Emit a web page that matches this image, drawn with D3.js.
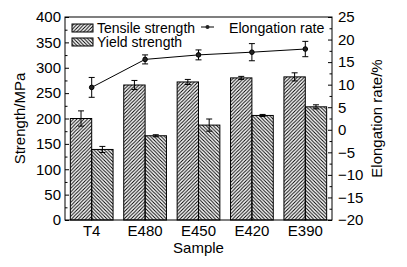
<!DOCTYPE html>
<html>
<head>
<meta charset="utf-8">
<script src="https://cdn.jsdelivr.net/npm/d3@7"></script>
<style>
body { margin: 0; background: white; }
text { font-family: "Liberation Sans", Arial, sans-serif; }
</style>
</head>
<body>
<div id="canvas"></div>
<script>
var w = 407;
var h = 267;

// data
var samples = ["T4", "E480", "E450", "E420", "E390"];
var tensile = [200, 266, 272, 280, 282];
var tensileErr = [15, 9, 5, 3, 8];
var yieldS = [139, 166, 187, 206, 223];
var yieldErr = [6, 2, 12, 2, 4];
var elong = [9.4, 15.6, 16.6, 17.2, 17.9];
var elongErr = [2.2, 1.0, 1.1, 1.9, 1.7];
var leftTicks = [0, 50, 100, 150, 200, 250, 300, 350, 400];
var rightTicks = [-20, -15, -10, -5, 0, 5, 10, 15, 20, 25];

// plot frame (window.top is reserved, so other names)
var pL = 65, pR = 332, pT = 17, pB = 220;

var svg = d3.select("#canvas").append("svg")
  .attr("width", w)
  .attr("height", h)
  .style("background-color", "white");

var defs = svg.append("defs");
// tensile: ////
var p1 = defs.append("pattern").attr("id", "hatchA")
  .attr("patternUnits", "userSpaceOnUse").attr("width", 3.5).attr("height", 3.5);
p1.append("path").attr("d", "M-1,1 L1,-1 M0,3.5 L3.5,0 M2.5,4.5 L4.5,2.5")
  .attr("stroke", "black").attr("stroke-width", 1);
// yield: \\\\
var p2 = defs.append("pattern").attr("id", "hatchB")
  .attr("patternUnits", "userSpaceOnUse").attr("width", 3.5).attr("height", 3.5);
p2.append("path").attr("d", "M-1,2.5 L1,4.5 M0,0 L3.5,3.5 M2.5,-1 L4.5,1")
  .attr("stroke", "black").attr("stroke-width", 1);

var x = d3.scaleBand().domain(samples).range([pL, pR])
  .paddingInner(0.2).paddingOuter(0.1);
var x1 = d3.scaleBand().domain(["t", "y"]).range([0, x.bandwidth()]);
var yL = d3.scaleLinear().domain([0, 400]).range([pB, pT]);
var yR = d3.scaleLinear().domain([-20, 25]).range([pB, pT]);

var series = [
  { key: "t", vals: tensile, err: tensileErr, fill: "url(#hatchA)" },
  { key: "y", vals: yieldS, err: yieldErr, fill: "url(#hatchB)" }
];

series.forEach(function(s) {
  svg.selectAll(null)
    .data(samples)
    .join("rect")
    .attr("x", function(d) { return x(d) + x1(s.key); })
    .attr("y", function(d, i) { return yL(s.vals[i]); })
    .attr("width", x1.bandwidth())
    .attr("height", function(d, i) { return yL(0) - yL(s.vals[i]); })
    .attr("fill", s.fill)
    .attr("stroke", "black")
    .attr("stroke-width", 1);
  // error bars
  svg.selectAll(null)
    .data(samples)
    .join("path")
    .attr("d", function(d, i) {
      var cx = x(d) + x1(s.key) + x1.bandwidth() / 2;
      var y0 = yL(s.vals[i] - s.err[i]), y1 = yL(s.vals[i] + s.err[i]);
      return "M" + cx + "," + y0 + "V" + y1 +
        "M" + (cx - 3) + "," + y0 + "H" + (cx + 3) +
        "M" + (cx - 3) + "," + y1 + "H" + (cx + 3);
    })
    .attr("stroke", "black")
    .attr("stroke-width", 1)
    .attr("fill", "none");
});

// elongation line
var cxE = function(d) { return x(d) + x.bandwidth() / 2; };
var line = d3.line()
  .x(function(d) { return cxE(d); })
  .y(function(d, i) { return yR(elong[i]); });
svg.append("path")
  .datum(samples)
  .attr("d", line)
  .attr("fill", "none")
  .attr("stroke", "black")
  .attr("stroke-width", 1);
svg.selectAll(null)
  .data(samples)
  .join("path")
  .attr("d", function(d, i) {
    var cx = cxE(d);
    var y0 = yR(elong[i] - elongErr[i]), y1 = yR(elong[i] + elongErr[i]);
    return "M" + cx + "," + y0 + "V" + y1 +
      "M" + (cx - 3) + "," + y0 + "H" + (cx + 3) +
      "M" + (cx - 3) + "," + y1 + "H" + (cx + 3);
  })
  .attr("stroke", "black")
  .attr("stroke-width", 1);
svg.selectAll(null)
  .data(samples)
  .join("circle")
  .attr("cx", cxE)
  .attr("cy", function(d, i) { return yR(elong[i]); })
  .attr("r", 2.3)
  .attr("fill", "#222")
  .attr("stroke", "black");

// frame
svg.append("rect")
  .attr("x", pL).attr("y", pT)
  .attr("width", pR - pL).attr("height", pB - pT)
  .attr("fill", "none").attr("stroke", "black").attr("stroke-width", 1);

// left axis
var minorL = d3.range(25, 400, 50);
svg.append("g").attr("transform", "translate(" + pL + ",0)")
  .call(d3.axisRight(yL).tickValues(minorL).tickSize(2.5).tickFormat(""))
  .call(function(g) { g.select(".domain").remove(); });
var gL = svg.append("g").attr("transform", "translate(" + pL + ",0)")
  .call(d3.axisLeft(yL).tickValues(leftTicks).tickSize(0).tickPadding(4));
gL.select(".domain").remove();
gL.selectAll("text").style("font-size", "15px").style("font-family", "Liberation Sans, Arial, sans-serif");
svg.append("g").attr("transform", "translate(" + pL + ",0)")
  .call(d3.axisRight(yL).tickValues(leftTicks).tickSize(4).tickFormat(""))
  .call(function(g) { g.select(".domain").remove(); });

// right axis
var minorR = d3.range(-17.5, 25, 5);
svg.append("g").attr("transform", "translate(" + pR + ",0)")
  .call(d3.axisLeft(yR).tickValues(minorR).tickSize(2.5).tickFormat(""))
  .call(function(g) { g.select(".domain").remove(); });
svg.append("g").attr("transform", "translate(" + pR + ",0)")
  .call(d3.axisLeft(yR).tickValues(rightTicks).tickSize(4).tickFormat(""))
  .call(function(g) { g.select(".domain").remove(); });
var gR = svg.append("g").attr("transform", "translate(" + pR + ",0)")
  .call(d3.axisRight(yR).tickValues(rightTicks).tickSize(0).tickPadding(6)
    .tickFormat(function(d) { return d < 0 ? "\u2212" + Math.abs(d) : d; }));
gR.select(".domain").remove();
gR.selectAll("text").style("font-size", "15px").style("font-family", "Liberation Sans, Arial, sans-serif");

// bottom axis
var gB = svg.append("g").attr("transform", "translate(0," + pB + ")")
  .call(d3.axisBottom(x).tickSize(0).tickPadding(5));
gB.select(".domain").remove();
gB.selectAll("text").style("font-size", "15px").style("font-family", "Liberation Sans, Arial, sans-serif");

// titles
svg.append("text")
  .attr("x", (pL + pR) / 2).attr("y", 253)
  .attr("text-anchor", "middle").style("font-size", "15px")
  .text("Sample");
svg.append("text")
  .attr("transform", "translate(25," + (pT + pB) / 2 + ") rotate(-90)")
  .attr("text-anchor", "middle").style("font-size", "15px")
  .text("Strength/MPa");
svg.append("text")
  .attr("transform", "translate(382," + (pT + pB) / 2 + ") rotate(-90)")
  .attr("text-anchor", "middle").style("font-size", "15px")
  .text("Elongation rate/%");

// legend
var legendItems = [
  { label: "Tensile strength", fill: "url(#hatchA)", y: 24 },
  { label: "Yield strength", fill: "url(#hatchB)", y: 38 }
];
legendItems.forEach(function(d) {
  svg.append("rect").attr("x", 72).attr("y", d.y).attr("width", 21).attr("height", 8)
    .attr("fill", d.fill).attr("stroke", "black").attr("stroke-width", 1);
  svg.append("text").attr("x", 97).attr("y", d.y + 8.5)
    .style("font-size", "14px").text(d.label);
});
svg.append("line").attr("x1", 201).attr("x2", 214).attr("y1", 27).attr("y2", 27)
  .attr("stroke", "black");
svg.append("circle").attr("cx", 207.5).attr("cy", 27).attr("r", 2).attr("fill", "#222");
svg.append("text").attr("x", 229).attr("y", 32.5)
  .style("font-size", "14.2px").text("Elongation rate");
</script>
</body>
</html>
